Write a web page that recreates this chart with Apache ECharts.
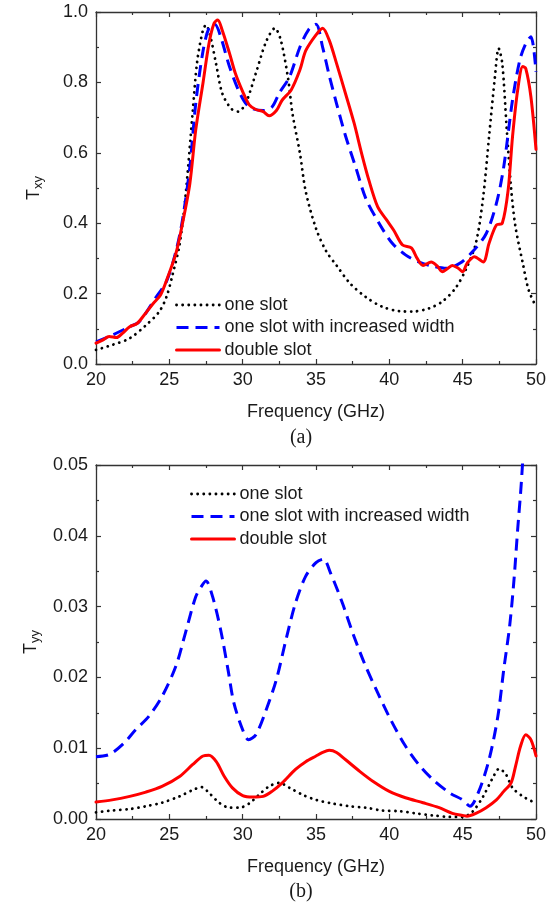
<!DOCTYPE html>
<html>
<head>
<meta charset="utf-8">
<script src="https://cdn.jsdelivr.net/npm/echarts@6/dist/echarts.min.js"></script>
<style>
html,body{margin:0;padding:0;background:#fff;}
#chart{width:556px;height:905px;}
</style>
</head>
<body>
<div id="chart"></div>
<script>
// ---------- tick labels ----------
const xTickLabels = ['20','25','30','35','40','45','50'];
const topYTickLabels = ['0.0','0.2','0.4','0.6','0.8','1.0'];
const botYTickLabels = ['0.00','0.01','0.02','0.03','0.04','0.05'];
const seriesNames = ['one slot','one slot with increased width','double slot'];

// ---------- (a) Txy ----------
const aOneF = [20,21.1,22.3,23.4,24.3,24.8,25.2,25.7,26.1,26.6,26.9,27.3,27.5,27.8,28.2,28.6,29.2,29.7,30.2,30.9,31.6,32.2,32.6,33.1,33.4,33.9,34.3,35,35.7,36.4,37.3,38.4,39.5,40.7,41.6,42.7,43.6,44.5,45.2,45.9,46.4,46.8,47.2,47.45,47.7,48.0,48.3,48.6,49.1,49.5,50];
const aOneT = [0.04,0.054,0.073,0.11,0.148,0.19,0.25,0.34,0.475,0.72,0.86,0.95,0.963,0.93,0.85,0.77,0.726,0.717,0.74,0.826,0.916,0.954,0.92,0.81,0.71,0.60,0.49,0.385,0.32,0.28,0.23,0.19,0.163,0.15,0.149,0.158,0.177,0.215,0.267,0.343,0.475,0.646,0.816,0.897,0.854,0.67,0.50,0.39,0.286,0.21,0.163];

const aWideF = [20,21.1,22.3,22.95,24.1,24.8,25.45,25.9,26.4,26.8,27.3,27.7,28.1,28.5,29.1,29.8,30.45,31.4,32.0,32.5,33.2,33.9,34.5,35.0,35.45,35.9,36.4,37.0,37.7,38.4,39.3,40.2,41.1,42.0,42.95,43.9,44.8,45.7,46.6,47.3,47.8,48.4,48.9,49.3,49.65,50];
const aWideT = [0.063,0.082,0.106,0.12,0.19,0.234,0.32,0.41,0.56,0.74,0.89,0.954,0.965,0.93,0.845,0.77,0.73,0.72,0.73,0.77,0.816,0.90,0.95,0.965,0.90,0.82,0.74,0.65,0.56,0.47,0.40,0.343,0.31,0.29,0.278,0.272,0.286,0.32,0.37,0.456,0.56,0.75,0.864,0.91,0.93,0.83];

const aDoubleF = [20,20.45,20.9,21.4,21.8,22.3,22.8,23.3,23.9,24.4,24.9,25.45,25.9,26.4,26.8,27.3,27.7,28.05,28.3,28.6,29.1,29.5,30.0,30.45,30.9,31.4,31.8,32.3,32.7,33.3,33.9,34.3,35.0,35.45,35.9,36.4,37.0,37.6,38.1,38.6,39.2,39.8,40.3,40.9,41.5,41.9,42.3,42.85,43.3,43.6,44.0,44.3,44.7,45.0,45.3,45.8,46.4,46.8,47.3,47.7,48.1,48.4,48.75,49.1,49.3,49.65,50];
const aDoubleT = [0.059,0.068,0.078,0.075,0.087,0.106,0.115,0.14,0.172,0.196,0.248,0.314,0.40,0.513,0.665,0.80,0.91,0.968,0.977,0.949,0.883,0.826,0.774,0.736,0.723,0.717,0.705,0.72,0.75,0.778,0.835,0.89,0.935,0.954,0.92,0.854,0.77,0.684,0.60,0.523,0.447,0.41,0.38,0.338,0.33,0.30,0.28,0.29,0.277,0.262,0.272,0.28,0.272,0.262,0.286,0.305,0.29,0.343,0.395,0.40,0.494,0.646,0.778,0.845,0.84,0.76,0.61];

// ---------- (b) Tyy ----------
const bOneF = [20,21.1,22.3,23.4,24.5,25.7,26.6,27.2,27.7,28.4,29.1,29.8,30.45,31.1,31.8,32.5,33.2,34.1,35,36.1,37.3,38.4,39.5,40.7,41.8,43.0,44.1,45.0,45.7,46.4,47.0,47.5,47.95,48.4,49.1,50];
const bOneT = [0.00094,0.0012,0.0014,0.0018,0.0023,0.0032,0.0041,0.0045,0.0037,0.0023,0.0016,0.0016,0.0022,0.0034,0.0046,0.0051,0.0044,0.0034,0.0027,0.0022,0.0018,0.0016,0.0012,0.0011,0.0008,0.0005,0.0003,0.0003,0.0011,0.0032,0.0056,0.0071,0.0063,0.0044,0.0032,0.0022];

const bWideF = [20,20.9,21.9,22.7,23.6,24.5,25.45,26.1,26.8,27.2,27.5,27.95,28.5,29.0,29.4,30.0,30.4,30.9,31.6,32.3,32.95,33.6,34.3,35.0,35.5,36.0,36.8,37.5,38.3,39.1,40.1,41.1,42.0,42.95,44.1,45.0,45.5,46.1,46.8,47.4,47.8,48.2,48.5,48.75,49.0,49.3];
const bWideT = [0.0088,0.0091,0.0107,0.0126,0.0145,0.0173,0.0216,0.0263,0.0314,0.0329,0.0336,0.0314,0.0267,0.0211,0.0164,0.0126,0.0112,0.0119,0.0154,0.0197,0.0253,0.0305,0.0343,0.0362,0.0367,0.0347,0.0305,0.0263,0.022,0.0183,0.014,0.0103,0.0077,0.0056,0.0037,0.0027,0.0018,0.0039,0.0084,0.0145,0.0211,0.0272,0.0338,0.0409,0.0475,0.058];

const bDoubleF = [20,21.1,22.3,23.4,24.5,25.7,26.6,27.3,27.7,28.2,28.75,29.3,30.0,30.7,31.4,32.0,32.7,33.6,34.3,35.0,35.45,35.9,36.4,37.0,38.0,38.9,40.0,41.1,42.3,43.4,44.3,45.0,45.3,45.9,46.6,47.3,47.8,48.3,48.6,48.95,49.3,49.65,50];
const bDoubleT = [0.0024,0.0027,0.0032,0.0038,0.0046,0.006,0.0077,0.0089,0.009,0.0081,0.006,0.0044,0.0033,0.0031,0.0032,0.0039,0.0051,0.007,0.0081,0.0089,0.0094,0.0097,0.0094,0.0084,0.0067,0.0053,0.0039,0.003,0.0023,0.0016,0.0008,0.0005,0.0004,0.0008,0.0016,0.0027,0.0039,0.0051,0.0074,0.0103,0.0119,0.0112,0.0089];

// ---------- build ----------
const zip = (xs, ys) => xs.map((x, i) => [x, ys[i]]);
const FONT = "'Liberation Sans', Arial, sans-serif";
const AXC = '#333';
const TXT = '#1a1a1a';

const styles = [
  { color: '#000000', width: 2.8, type: [0.1, 6], cap: 'round' },
  { color: '#0000ff', width: 3, type: [12, 7], cap: 'butt' },
  { color: '#ff0000', width: 3, type: 'solid', cap: 'round' }
];

function xAxisDef(grid, pos, labels) {
  return {
    type: 'value', gridIndex: grid, position: pos, min: 20, max: 50, interval: 5,
    name: labels ? 'Frequency (GHz)' : '', nameLocation: 'middle', nameGap: 39,
    nameTextStyle: { fontFamily: FONT, fontSize: 18, color: TXT },
    axisLine: { show: true, onZero: false, lineStyle: { color: AXC, width: 1.3 } },
    axisTick: { show: true, inside: true, length: 5, lineStyle: { color: AXC, width: 1.2 } },
    minorTick: { show: true, splitNumber: 2, length: 3, lineStyle: { color: AXC, width: 1.2 } },
    axisLabel: { show: labels, margin: 7, fontFamily: FONT, fontSize: 18, color: TXT,
      formatter: v => xTickLabels[Math.round((v - 20) / 5)] },
    splitLine: { show: false }
  };
}
function yAxisDef(grid, pos, labels, max, interval, tickLabels, sub) {
  return {
    type: 'value', gridIndex: grid, position: pos, min: 0, max: max, interval: interval,
    name: labels ? '{t|T}{s|' + sub + '}' : '', nameLocation: 'middle', nameGap: 51, nameRotate: 90,
    nameTextStyle: { color: TXT, rich: {
      t: { fontFamily: FONT, fontSize: 18, color: TXT, lineHeight: 20, verticalAlign: 'top' },
      s: { fontFamily: FONT, fontSize: 13, color: TXT, lineHeight: 16, verticalAlign: 'bottom', padding: [7, 0, 0, 0] }
    } },
    axisLine: { show: true, onZero: false, lineStyle: { color: AXC, width: 1.3 } },
    axisTick: { show: true, inside: true, length: 5, lineStyle: { color: AXC, width: 1.2 } },
    minorTick: { show: true, splitNumber: 2, length: 3, lineStyle: { color: AXC, width: 1.2 } },
    axisLabel: { show: labels, margin: 8, fontFamily: FONT, fontSize: 18, color: TXT,
      formatter: v => tickLabels[Math.round(v / interval)] },
    splitLine: { show: false }
  };
}
function lineSeries(name, idx, grid, data) {
  const s = styles[idx];
  return {
    name: name, type: 'line', xAxisIndex: grid * 2, yAxisIndex: grid * 2,
    data: data, showSymbol: false, symbol: 'none', symbolSize: 0, smooth: 0.3, clip: true,
    lineStyle: { color: s.color, width: s.width, type: s.type, cap: s.cap, join: 'round' },
    itemStyle: { color: s.color },
    z: 3 + idx
  };
}
function legendDef(left, top) {
  return {
    orient: 'vertical', left: left, top: top, padding: 0,
    itemWidth: 43, itemHeight: 14, itemGap: 2.5,
    data: seriesNames.map((n, i) => ({
      name: n,
      lineStyle: { width: styles[i].width, type: styles[i].type, cap: styles[i].cap, color: styles[i].color }
    })),
    itemStyle: { opacity: 0, borderWidth: 0 },
    textStyle: { fontFamily: FONT, fontSize: 18, color: TXT, lineHeight: 20 },
    selectedMode: false
  };
}

const option = {
  animation: false,
  backgroundColor: '#ffffff',
  grid: [
    { left: 96, width: 440, top: 12, height: 352, containLabel: false },
    { left: 96, width: 440, top: 465, height: 354, containLabel: false }
  ],
  xAxis: [
    xAxisDef(0, 'bottom', true), xAxisDef(0, 'top', false),
    xAxisDef(1, 'bottom', true), xAxisDef(1, 'top', false)
  ],
  yAxis: [
    yAxisDef(0, 'left', true, 1.0, 0.2, topYTickLabels, 'xy'),
    yAxisDef(0, 'right', false, 1.0, 0.2, topYTickLabels, 'xy'),
    yAxisDef(1, 'left', true, 0.05, 0.01, botYTickLabels, 'yy'),
    yAxisDef(1, 'right', false, 0.05, 0.01, botYTickLabels, 'yy')
  ],
  legend: [ legendDef(175, 295), legendDef(190, 484) ],
  graphic: [
    { type: 'text', x: 301, y: 438, style: { text: '(a)', font: "20px 'Liberation Serif', 'Times New Roman', serif", fill: TXT, textAlign: 'center', textVerticalAlign: 'middle' } },
    { type: 'text', x: 301, y: 892, style: { text: '(b)', font: "20px 'Liberation Serif', 'Times New Roman', serif", fill: TXT, textAlign: 'center', textVerticalAlign: 'middle' } }
  ],
  series: [
    lineSeries(seriesNames[0], 0, 0, zip(aOneF, aOneT)),
    lineSeries(seriesNames[1], 1, 0, zip(aWideF, aWideT)),
    lineSeries(seriesNames[2], 2, 0, zip(aDoubleF, aDoubleT)),
    lineSeries(seriesNames[0], 0, 1, zip(bOneF, bOneT)),
    lineSeries(seriesNames[1], 1, 1, zip(bWideF, bWideT)),
    lineSeries(seriesNames[2], 2, 1, zip(bDoubleF, bDoubleT))
  ]
};

const chart = echarts.init(document.getElementById('chart'), null, { renderer: 'canvas' });
chart.setOption(option);
</script>
</body>
</html>
